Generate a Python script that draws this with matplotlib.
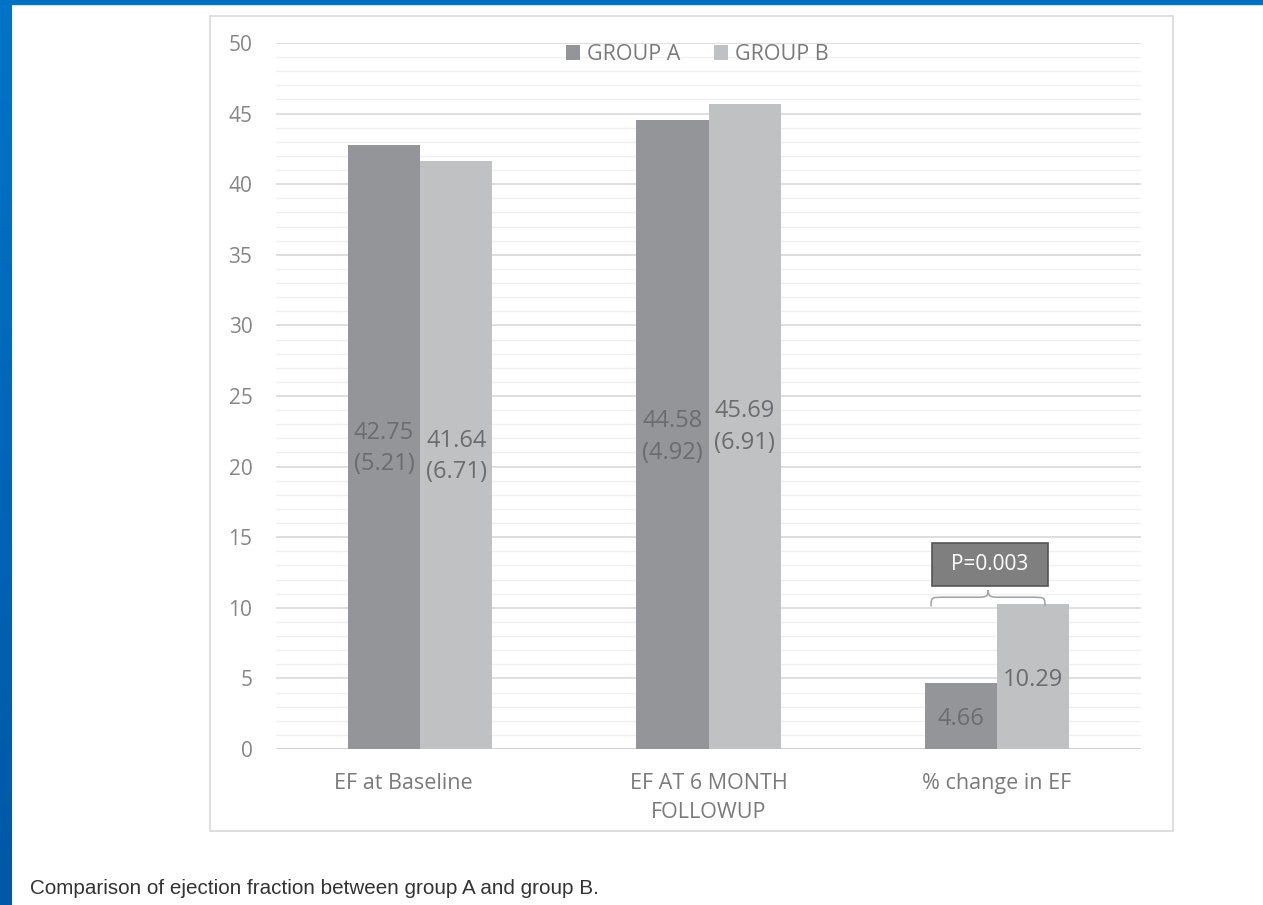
import numpy as np
import matplotlib.pyplot as plt
import matplotlib.transforms as mtransforms
from matplotlib.patches import Rectangle, PathPatch
from matplotlib.path import Path
from matplotlib.colors import LinearSegmentedColormap

categories = ["EF at Baseline", "EF AT 6 MONTH\nFOLLOWUP", "% change in EF"]
group_a = [42.75, 44.58, 4.66]
group_b = [41.64, 45.69, 10.29]
labels_a = ["42.75\n(5.21)", "44.58\n(4.92)", "4.66"]
labels_b = ["41.64\n(6.71)", "45.69\n(6.91)", "10.29"]
label_y_a = [21.3, 22.1, 2.1]
label_y_b = [20.7, 22.8, 4.9]
p_text = "P=0.003"
caption = "Comparison of ejection fraction between group A and group B."

col_a = "#939598"
col_b = "#c0c1c3"

plt.rcParams['font.family'] = ['Open Sans', 'DejaVu Sans']

fig = plt.figure(figsize=(12.63, 9.05), dpi=100)

# blue frame of the screenshot
grad = fig.add_axes([0, 0, 12 / 1263, 1])
grad.imshow(np.linspace(0, 1, 100).reshape(-1, 1), aspect='auto',
            cmap=LinearSegmentedColormap.from_list("b", ["#0074c8", "#0058a6"]))
grad.axis('off')
fig.patches.append(Rectangle((0, 1 - 4 / 905), 1, 4 / 905, transform=fig.transFigure, color="#0072c6", zorder=5))

# chart frame
fig.patches.append(Rectangle((210 / 1263, 74 / 905), 963 / 1263, 815 / 905, transform=fig.transFigure,
                             fill=False, edgecolor="#d9d9d9", linewidth=1.2))

ax = fig.add_axes([276 / 1263, 156 / 905, 865 / 1263, 706 / 905])
x = np.arange(len(categories))
w = 0.25
ax.bar(x - w / 2, group_a, w, color=col_a, label="GROUP A", zorder=3)
ax.bar(x + w / 2, group_b, w, color=col_b, label="GROUP B", zorder=3)

ax.set_xlim(-0.5, 2.5)
ax.set_ylim(0, 50)
ax.set_yticks(range(0, 51, 5))
ax.set_yticks(range(0, 51, 1), minor=True)
ax.grid(which='major', axis='y', color="#d9d9d9", linewidth=1.2, zorder=0)
ax.grid(which='minor', axis='y', color="#f0f0f0", linewidth=1.0, zorder=0)
ax.tick_params(axis='y', which='both', length=0, labelsize=15, labelcolor="#868686", pad=17)
ax.tick_params(axis='x', length=0, labelsize=15.5, labelcolor="#7a7a7a", pad=17)
ax.set_xticks(x)
ax.set_xticklabels(categories, linespacing=1.55, va='top')
for s in ax.spines.values():
    s.set_visible(False)
ax.axhline(0, color="#d0d0d0", linewidth=1.2, zorder=2)

# first category label sits a little left of its bars in the original
first = ax.get_xticklabels()[0]
first.set_transform(first.get_transform() + mtransforms.ScaledTranslation(-0.17, 0, fig.dpi_scale_trans))

for i in range(len(categories)):
    ax.text(x[i] - w / 2, label_y_a[i], labels_a[i], ha='center', va='center', fontsize=17,
            color="#6b6c6f", linespacing=1.4, zorder=4)
    ax.text(x[i] + w / 2, label_y_b[i], labels_b[i], ha='center', va='center', fontsize=17,
            color="#6b6c6f", linespacing=1.4, zorder=4)

# p-value box and brace
ax.add_patch(Rectangle((1.775, 11.55), 0.402, 3.05, facecolor="#7f7f7f", edgecolor="#555555",
                       linewidth=1.2, zorder=5))
ax.text(1.976, 13.05, p_text, ha='center', va='center', fontsize=15, color="white", zorder=6)
x0, x1, xm = 1.772, 2.167, 1.97
yb, yt, ytip = 10.1, 10.75, 11.25
verts = [(x0, yb),
         (x0, yt), (x0, yt), (x0 + 0.05, yt),
         (xm - 0.04, yt),
         (xm - 0.01, yt), (xm, yt), (xm, ytip),
         (xm, yt), (xm + 0.01, yt), (xm + 0.04, yt),
         (x1 - 0.05, yt),
         (x1, yt), (x1, yt), (x1, yb)]
codes = [Path.MOVETO,
         Path.CURVE4, Path.CURVE4, Path.CURVE4,
         Path.LINETO,
         Path.CURVE4, Path.CURVE4, Path.CURVE4,
         Path.CURVE4, Path.CURVE4, Path.CURVE4,
         Path.LINETO,
         Path.CURVE4, Path.CURVE4, Path.CURVE4]
ax.add_patch(PathPatch(Path(verts, codes), fill=False, edgecolor="#a6a6a6", linewidth=1.2, zorder=5))

leg = ax.legend(loc='upper center', bbox_to_anchor=(0.487, 1.026), ncol=2, frameon=False, fontsize=15.5,
                handlelength=0.65, handleheight=0.65, handletextpad=0.3, columnspacing=1.6)
for t in leg.get_texts():
    t.set_color("#7a7a7a")

fig.text(30 / 1263, 1 - 888 / 905, caption, fontsize=14.9, family=['Liberation Sans', 'DejaVu Sans'],
         color="#333333", va='center', ha='left')

fig.savefig("out.png", dpi=100)
